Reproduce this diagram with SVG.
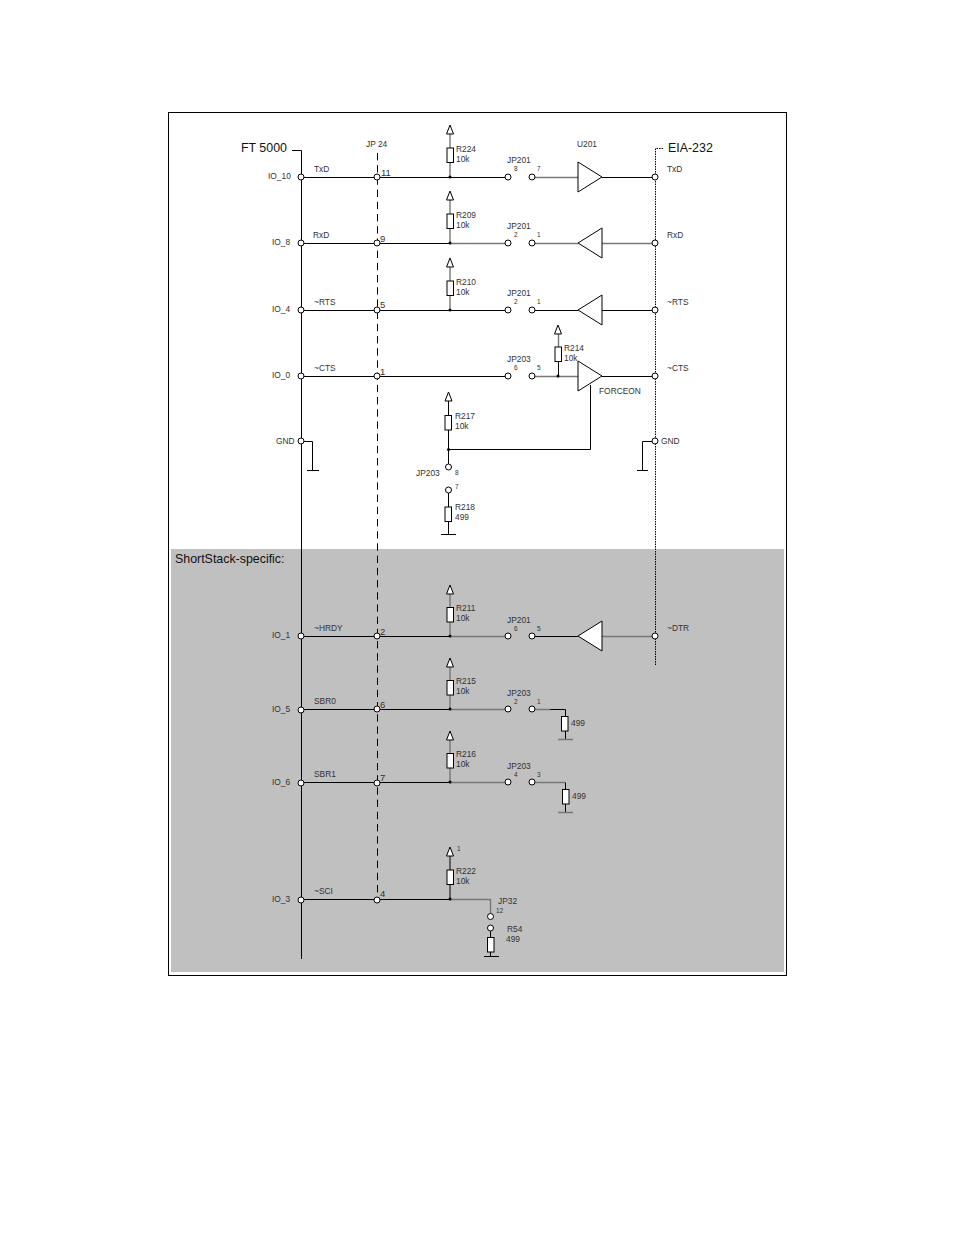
<svg xmlns="http://www.w3.org/2000/svg" width="954" height="1235" viewBox="0 0 954 1235">
<style>
text{font-family:"Liberation Sans",Arial,sans-serif;font-size:8.4px;fill:#333}
.big{font-size:12.4px;fill:#111}
.sm{font-size:6.5px}
.n{font-size:9.5px}
.w{fill:none;stroke:#000;stroke-width:1}
.g{fill:none;stroke:#777;stroke-width:1.4}
.dash{fill:none;stroke:#000;stroke-width:1;stroke-dasharray:7.4 4.8}
.dot{fill:none;stroke:#000;stroke-width:1;stroke-dasharray:1.5 1}
.b{fill:#fff;stroke:#000;stroke-width:1}
.p{fill:#fff;stroke:#000;stroke-width:1}
.j{fill:#000}
</style>
<defs>
<circle id="pin" class="p" r="3"/>
<circle id="dot" class="j" r="1.5"/>
<polygon id="arrow" class="b" points="0,-9 3.5,0 -3.5,0"/>
<rect id="res" class="b" x="-3" y="0" width="6.5" height="14.500"/>
<polygon id="bufR" class="b" points="578,-15 602,0 578,15"/>
<polygon id="bufL" class="b" points="602,-15 578,0 602,15"/>
</defs>
<rect x="168.500" y="112.500" width="618" height="863" fill="#fff" stroke="#000"/>
<rect x="171" y="549" width="613" height="423" fill="#c0c0c0"/>
<g id="connectors">
<path class="w" d="M292 150.500H301.500V959"/>
<path class="dash" d="M377.500 153V900"/>
<path class="dot" d="M655.500 665V148.500H663"/>
<path class="w" d="M301 177.500H508M602 177.500H655"/>
<path class="g" d="M532 177.500H578"/>
<path class="w" d="M301 243.500H450"/>
<path class="g" d="M450 243.500H508M532 243.500H578M602 243.500H655"/>
<path class="w" d="M301 310.500H508M532 310.500H578M602 310.500H655"/>
<path class="w" d="M301 376.500H508M602 376.500H655"/>
<path class="g" d="M532 376.500H578"/>
<path class="w" d="M301 636.500H450M532 636.500H578"/>
<path class="g" d="M450 636.500H508M602 636.500H655"/>
<path class="w" d="M301 709.500H450M550 709.500H565.500V716M565.500 731V739"/>
<path class="g" d="M450 709.500H508M532 709.500H550"/>
<path class="w" d="M301 782.500H450M565.500 782.500V789M565.500 804V812"/>
<path class="g" d="M450 782.500H508M532 782.500H565"/>
<path class="w" d="M301 899.500H450"/>
<path class="g" d="M450 899.500H490.500V914"/>
<path class="w" d="M301 441.500H312.500V470"/>
<path class="w" d="M655 441.500H642.500V470"/>
<path class="g" d="M450 134V177M450 200V243M450 267V310M558.500 334V347M450 594V636M450 667V709M450 740V782"/>
<path class="w" d="M558.500 361V376M450 856V899"/>
<path class="w" d="M448.500 401V464M448.500 493V534M590.500 385V449.500H448.500"/>
<path class="w" d="M490.500 931V956"/>
<path class="w" d="M307 470.500H319M637 470.500H648M441 534.500H456M484 956.500H499"/>
<path class="g" d="M558 739.500H573M558 812.500H573"/>
</g>
<g id="FT5000"><text class="big" x="241" y="151.500">FT 5000</text></g>
<g id="EIA232"><text class="big" x="668" y="151.500">EIA-232</text></g>
<g id="ShortStack"><text class="big" x="175" y="563">ShortStack-specific:</text></g>
<g id="JP24"><text x="366" y="147">JP 24</text>
<text class="n" x="381" y="175.500">11</text><text class="n" x="380" y="241.500">9</text><text class="n" x="380" y="308">5</text><text class="n" x="380" y="375">1</text><text class="n" x="380" y="635">2</text><text class="n" x="380" y="708">6</text><text class="n" x="380" y="781">7</text><text class="n" x="380" y="897">4</text>
<use href="#pin" x="377" y="177"/><use href="#pin" x="377" y="243"/><use href="#pin" x="377" y="310"/><use href="#pin" x="377" y="376"/><use href="#pin" x="377" y="636"/><use href="#pin" x="377" y="709"/><use href="#pin" x="377" y="783"/><use href="#pin" x="377" y="900"/>
</g>
<g id="FT5000-pins">
<use href="#pin" x="301" y="177"/><text x="268" y="179">IO_10</text><text x="314" y="172">TxD</text>
<use href="#pin" x="301" y="243"/><text x="272" y="245">IO_8</text><text x="313" y="238">RxD</text>
<use href="#pin" x="301" y="310"/><text x="272" y="312">IO_4</text><text x="314" y="305">~RTS</text>
<use href="#pin" x="301" y="376"/><text x="272" y="378">IO_0</text><text x="314" y="371">~CTS</text>
<use href="#pin" x="301" y="441"/><text x="276" y="444">GND</text>
<use href="#pin" x="301" y="636"/><text x="272" y="638">IO_1</text><text x="314" y="631">~HRDY</text>
<use href="#pin" x="301" y="710"/><text x="272" y="712">IO_5</text><text x="314" y="704">SBR0</text>
<use href="#pin" x="301" y="783"/><text x="272" y="785">IO_6</text><text x="314" y="777">SBR1</text>
<use href="#pin" x="301" y="900"/><text x="272" y="902">IO_3</text><text x="314" y="894">~SCI</text>
</g>
<g id="EIA232-pins">
<use href="#pin" x="655" y="177"/><text x="667" y="172">TxD</text>
<use href="#pin" x="655" y="243"/><text x="667" y="238">RxD</text>
<use href="#pin" x="655" y="310"/><text x="667" y="305">~RTS</text>
<use href="#pin" x="655" y="376"/><text x="667" y="371">~CTS</text>
<use href="#pin" x="655" y="441"/><text x="661" y="444">GND</text>
<use href="#pin" x="655" y="636"/><text x="667" y="631">~DTR</text>
</g>
<g id="U201"><text x="577" y="147">U201</text>
<use href="#bufR" y="177"/><use href="#bufL" y="243"/><use href="#bufL" y="310"/><use href="#bufR" y="376"/><use href="#bufL" y="636"/>
<text x="599" y="394">FORCEON</text></g>
<g id="R224"><use href="#arrow" x="450" y="134"/><use href="#res" x="450" y="148"/><use href="#dot" x="450" y="177"/><text x="456" y="152">R224</text><text x="456" y="162">10k</text></g>
<g id="R209"><use href="#arrow" x="450" y="200"/><use href="#res" x="450" y="214"/><use href="#dot" x="450" y="243"/><text x="456" y="218">R209</text><text x="456" y="228">10k</text></g>
<g id="R210"><use href="#arrow" x="450" y="267"/><use href="#res" x="450" y="281"/><use href="#dot" x="450" y="310"/><text x="456" y="285">R210</text><text x="456" y="295">10k</text></g>
<g id="R214"><use href="#arrow" x="558" y="334"/><use href="#res" x="558" y="347"/><use href="#dot" x="558" y="376"/><text x="564" y="351">R214</text><text x="564" y="361">10k</text></g>
<g id="R217"><use href="#arrow" x="448.500" y="401"/><use href="#res" x="448" y="415.500"/><use href="#dot" x="448.500" y="449.500"/><text x="455" y="419">R217</text><text x="455" y="429">10k</text></g>
<g id="R218"><use href="#res" x="448" y="507"/><text x="455" y="510">R218</text><text x="455" y="520">499</text></g>
<g id="R211"><use href="#arrow" x="450" y="594"/><use href="#res" x="450" y="607.500"/><use href="#dot" x="450" y="636"/><text x="456" y="611">R211</text><text x="456" y="621">10k</text></g>
<g id="R215"><use href="#arrow" x="450" y="667"/><use href="#res" x="450" y="680.500"/><use href="#dot" x="450" y="709"/><text x="456" y="684">R215</text><text x="456" y="694">10k</text></g>
<g id="R216"><use href="#arrow" x="450" y="740"/><use href="#res" x="450" y="753.500"/><use href="#dot" x="450" y="782"/><text x="456" y="757">R216</text><text x="456" y="767">10k</text></g>
<g id="R222"><use href="#arrow" x="450" y="856"/><use href="#res" x="450" y="870"/><use href="#dot" x="450" y="899"/><text class="sm" x="457" y="851">1</text><text x="456" y="874">R222</text><text x="456" y="884">10k</text></g>
<g id="R54"><use href="#res" x="490.500" y="937.500"/><text x="507" y="932">R54</text><text x="506" y="942">499</text></g>
<g id="R-499a"><use href="#res" x="564.500" y="716.500"/><text x="571" y="726">499</text></g>
<g id="R-499b"><use href="#res" x="565.500" y="789.500"/><text x="572" y="799">499</text></g>
<g id="JP201a"><use href="#pin" x="508" y="177"/><use href="#pin" x="532" y="177"/><text x="507" y="163">JP201</text><text class="sm" x="514" y="171">8</text><text class="sm" x="537" y="171">7</text></g>
<g id="JP201b"><use href="#pin" x="508" y="243"/><use href="#pin" x="532" y="243"/><text x="507" y="229">JP201</text><text class="sm" x="514" y="237">2</text><text class="sm" x="537" y="237">1</text></g>
<g id="JP201c"><use href="#pin" x="508" y="310"/><use href="#pin" x="532" y="310"/><text x="507" y="296">JP201</text><text class="sm" x="514" y="304">2</text><text class="sm" x="537" y="304">1</text></g>
<g id="JP203a"><use href="#pin" x="508" y="376"/><use href="#pin" x="532" y="376"/><text x="507" y="362">JP203</text><text class="sm" x="514" y="370">6</text><text class="sm" x="537" y="370">5</text></g>
<g id="JP201d"><use href="#pin" x="508" y="636"/><use href="#pin" x="532" y="636"/><text x="507" y="623">JP201</text><text class="sm" x="514" y="631">6</text><text class="sm" x="537" y="631">5</text></g>
<g id="JP203b"><use href="#pin" x="508" y="709"/><use href="#pin" x="532" y="709"/><text x="507" y="696">JP203</text><text class="sm" x="514" y="704">2</text><text class="sm" x="537" y="704">1</text></g>
<g id="JP203c"><use href="#pin" x="508" y="782"/><use href="#pin" x="532" y="782"/><text x="507" y="769">JP203</text><text class="sm" x="514" y="777">4</text><text class="sm" x="537" y="777">3</text></g>
<g id="JP203d"><use href="#pin" x="448.500" y="467"/><use href="#pin" x="448.500" y="490"/><text x="416" y="476">JP203</text><text class="sm" x="455" y="475">8</text><text class="sm" x="455" y="489">7</text></g>
<g id="JP32"><use href="#pin" x="490.500" y="916.500"/><use href="#pin" x="490.500" y="928"/><text x="498" y="904">JP32</text><text class="sm" x="496" y="913">12</text></g>
</svg>
